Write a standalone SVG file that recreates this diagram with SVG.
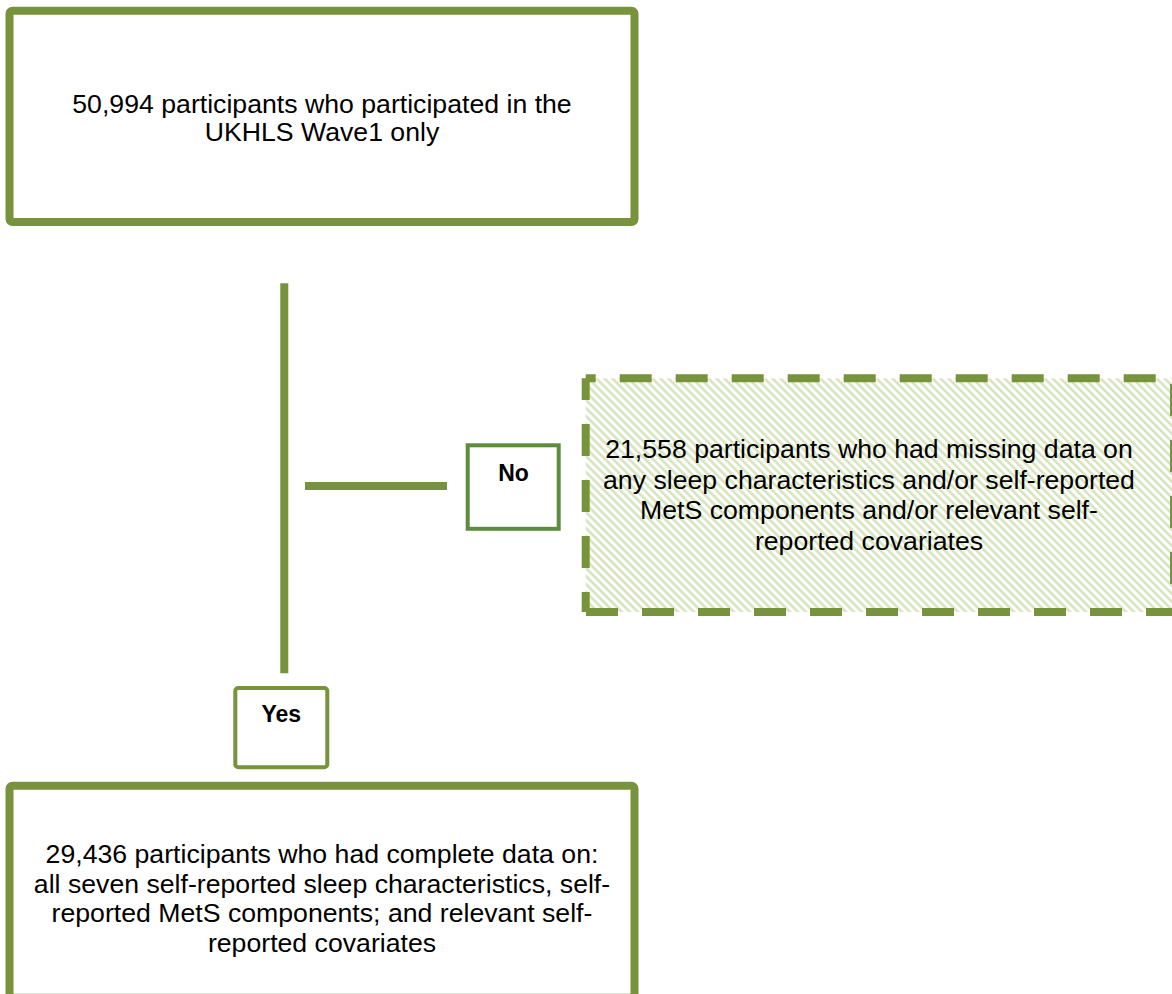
<svg xmlns="http://www.w3.org/2000/svg" width="1172" height="994" viewBox="0 0 1172 994">
  <style>
    .box { fill: #ffffff; stroke: #77933C; stroke-width: 8; }
    .tag { fill: #ffffff; stroke: #77933C; stroke-width: 4; }
    .tag-no { fill: #ffffff; stroke: #5E8C3E; stroke-width: 4; }
    .link { stroke: #77933C; stroke-width: 8; fill: none; }
    .dash { fill: none; stroke: #77933C; stroke-width: 8; stroke-dasharray: 32 24; }
    .txt { font-family: "Liberation Sans", Arial, sans-serif; font-size: 26.67px; fill: #000000; text-anchor: middle; }
    .lbl { font-family: "Liberation Sans", Arial, sans-serif; font-size: 23px; font-weight: bold; fill: #000000; text-anchor: middle; }
  </style>
  <defs>
    <pattern id="hatch" patternUnits="userSpaceOnUse" width="5.66" height="10" patternTransform="rotate(-45)">
      <rect x="0" y="0" width="2.6" height="10" fill="#D7E4BD"/>
    </pattern>
  </defs>

  <!-- Connectors -->
  <g id="connectors">
    <line class="link" x1="284.3" y1="283.3" x2="284.3" y2="673.3"/>
    <line class="link" x1="305" y1="486" x2="447" y2="486"/>
  </g>

  <!-- Starting sample -->
  <g id="node-start">
    <rect class="box" x="9.5" y="10.7" width="625" height="211.3" rx="3"/>
    <text class="txt" x="322" y="113">50,994 participants who participated in the</text>
    <text class="txt" x="322" y="141">UKHLS Wave1 only</text>
  </g>

  <!-- Decision label: No -->
  <g id="node-no">
    <rect class="tag-no" x="467.7" y="445.3" width="91" height="83.5"/>
    <text class="lbl" x="513.5" y="480.7">No</text>
  </g>

  <!-- Excluded sample -->
  <g id="node-excluded">
    <rect x="585.7" y="378.3" width="588.3" height="233.7" fill="#ffffff"/>
    <rect x="585.7" y="378.3" width="588.3" height="233.7" fill="url(#hatch)"/>
    <path class="dash" d="M585.7 378.3 H1174 V612 H585.7" stroke-dashoffset="22"/>
    <path class="dash" d="M585.7 378.3 V612" stroke-dashoffset="10.3"/>
    <text class="txt" x="869" y="458">21,558 participants who had missing data on</text>
    <text class="txt" x="869" y="488.5">any sleep characteristics and/or self-reported</text>
    <text class="txt" x="869" y="519">MetS components and/or relevant self-</text>
    <text class="txt" x="869" y="549.5">reported covariates</text>
  </g>

  <!-- Decision label: Yes -->
  <g id="node-yes">
    <rect class="tag" x="235.3" y="688" width="92" height="79.3" rx="3"/>
    <text class="lbl" x="281.3" y="722">Yes</text>
  </g>

  <!-- Analytic sample -->
  <g id="node-final">
    <rect class="box" x="9.5" y="785.8" width="625" height="212" rx="3"/>
    <text class="txt" x="322" y="863">29,436 participants who had complete data on:</text>
    <text class="txt" x="322" y="892.5">all seven self-reported sleep characteristics, self-</text>
    <text class="txt" x="322" y="922">reported MetS components; and relevant self-</text>
    <text class="txt" x="322" y="951.5">reported covariates</text>
  </g>
</svg>
